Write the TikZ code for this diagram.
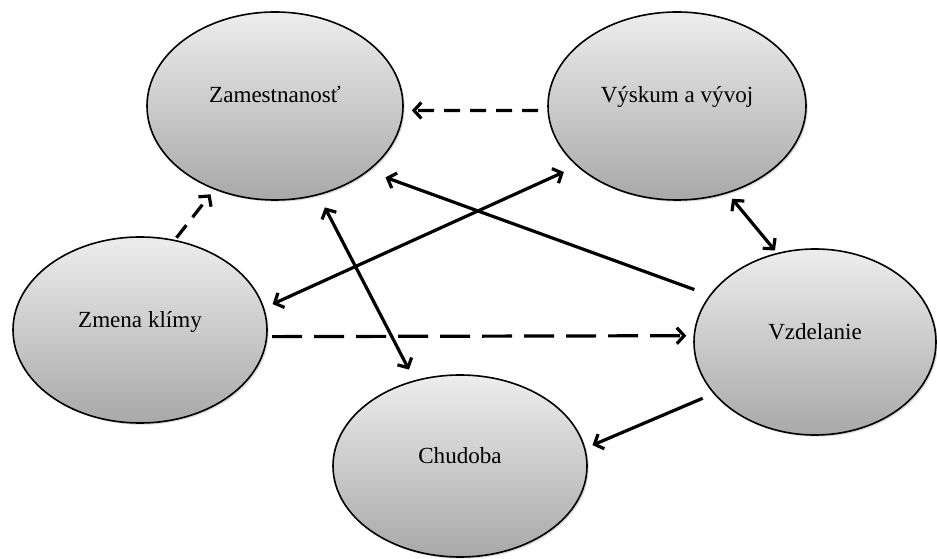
\documentclass[tikz,border=0pt]{standalone}
\usepackage{fontspec}
\setmainfont{Liberation Serif}
\usetikzlibrary{shapes.geometric,arrows.meta,shadows}
\begin{document}
\begin{tikzpicture}[x=0.75pt,y=-0.75pt,
  bubble/.style={ellipse, draw=black, line width=1.2pt, top color=gray!14, bottom color=gray!68,
    inner sep=0pt, outer sep=0pt,
    drop shadow={shadow xshift=1.3pt, shadow yshift=-1.3pt, opacity=0.3}},
  lbl/.style={anchor=base, font=\fontsize{17.3}{20}\selectfont, inner sep=0pt},
  conn/.style={line width=2.4pt},
  tipA/.style={-{Straight Barb[length=5.5pt,width=12pt]}},
  tipAB/.style={{Straight Barb[length=5.5pt,width=12pt]}-{Straight Barb[length=5.5pt,width=12pt]}},
  shortdash/.style={dash pattern=on 12pt off 7.5pt},
  longdash/.style={dash pattern=on 22.5pt off 9pt}]
\useasboundingbox (0,0) rectangle (937,559);

\node[bubble, minimum width=192pt, minimum height=141pt] (Z) at (275,106) {};
\node[bubble, minimum width=193.5pt, minimum height=141pt] (V) at (677,106) {};
\node[bubble, minimum width=190.5pt, minimum height=139.5pt] (K) at (140,330) {};
\node[bubble, minimum width=181.5pt, minimum height=139.5pt] (E) at (815,342) {};
\node[bubble, minimum width=190.5pt, minimum height=136.5pt] (C) at (460,466) {};

\node[lbl] (Zt) at ([yshift=2.25pt]Z.center) {Zamestnanosť};
\node[lbl] (Vt) at ([yshift=2.25pt]V.center) {Výskum a vývoj};
\node[lbl] (Kt) at ([yshift=2.25pt]K.center) {Zmena klímy};
\node[lbl] (Et) at ([yshift=2.25pt]E.center) {Vzdelanie};
\node[lbl] (Ct) at ([yshift=2.25pt]C.center) {Chudoba};

\draw[conn, tipA, shortdash, shorten <=7.5pt, shorten >=6.75pt] (V.182.5) -- (Z.-2.5);
\draw[conn, tipA, shorten <=12.75pt, shorten >=14.25pt] (E.156.9) -- (Z.-35.7);
\draw[conn, tipAB, shorten <=7.5pt, shorten >=11.25pt] (K.10.6) -- (V.211.3);
\draw[conn, tipAB, shorten <=10.9pt, shorten >=9.6pt] (Z.-64.8) -- (C.118.4);
\draw[conn, tipA, shortdash, shorten <=2.6pt, shorten >=5.1pt] (K.69.4) -- (Z.234.7);
\draw[conn, tipA, longdash, shorten <=4pt, shorten >=6pt] (K.-3) -- (E.177.8);
\draw[conn, tipAB, shorten <=6pt, shorten >=3pt] (V.-60.6) -- (E.113.5);
\draw[conn, tipA, shorten <=9.4pt, shorten >=6.4pt] (E.207.4) -- (C.8.1);
\end{tikzpicture}
\end{document}
